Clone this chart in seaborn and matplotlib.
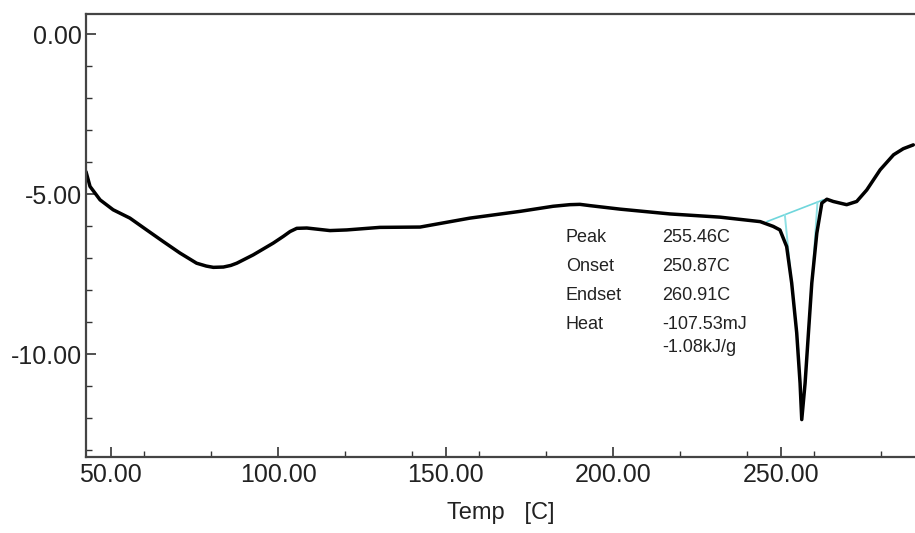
import numpy as np
import pandas as pd
import matplotlib
matplotlib.use("Agg")
import matplotlib.pyplot as plt
from matplotlib.ticker import MultipleLocator
import seaborn as sns

# DSC curve
temp = [42.6, 43.8, 46.8, 50.7, 55.7, 60.7, 65.6, 70.6, 75.6, 78.5, 80.6, 83.6,
        85.8, 87.6, 92.5, 98.5, 101.5, 103.5, 105.5, 108.5, 115.4, 120.4, 130.3,
        142.3, 157.2, 172.1, 182.0, 187.0, 190.0, 193.0, 202.0, 216.9, 231.8,
        243.8, 247.7, 249.7, 251.7, 253.2, 254.7, 255.7, 256.2, 257.2, 258.2,
        259.2, 260.7, 262.2, 263.7, 265.6, 269.6, 272.6, 275.6, 279.6, 283.6,
        286.5, 289.5]
heat_flow = [-4.30, -4.76, -5.18, -5.49, -5.75, -6.12, -6.48, -6.84, -7.16, -7.25, -7.29, -7.28,
             -7.23, -7.16, -6.90, -6.53, -6.32, -6.17, -6.07, -6.06, -6.14, -6.12, -6.04,
             -6.03, -5.75, -5.54, -5.38, -5.33, -5.32, -5.36, -5.47, -5.62, -5.72,
             -5.86, -6.01, -6.12, -6.64, -7.78, -9.34, -10.91, -12.05, -10.91, -9.34,
             -7.78, -6.22, -5.28, -5.16, -5.23, -5.33, -5.23, -4.87, -4.24, -3.77,
             -3.58, -3.46]

# peak analysis helper lines (cyan)
base_x = [245.8, 262.6]
base_y = [-5.86, -5.18]
left_tan_x = [251.15, 255.2]
left_tan_y = [-5.65, -9.9]
right_tan_x = [260.9, 257.85]
right_tan_y = [-5.24, -9.9]

labels = ["Peak", "Onset", "Endset", "Heat", ""]
values = ["255.46C", "250.87C", "260.91C", "-107.53mJ", "-1.08kJ/g"]

df = pd.DataFrame({"Temp": temp, "Heat": heat_flow})

sns.set_style("ticks")
plt.rcParams["font.family"] = ["Liberation Sans", "DejaVu Sans"]

fig = plt.figure(figsize=(9.15, 5.33), dpi=100)
ax = fig.add_axes([0.094, 0.1426, 0.906, 0.831])

ax.plot(base_x, base_y, color="#6fd6dc", lw=1.2, zorder=1)
ax.plot(left_tan_x, left_tan_y, color="#8fe0e4", lw=1.4, zorder=1)
ax.plot(right_tan_x, right_tan_y, color="#8fe0e4", lw=1.4, zorder=1)
sns.lineplot(data=df, x="Temp", y="Heat", color="black", lw=2.5, ax=ax,
             sort=False, zorder=2)

ax.set_xlim(42.6, 290)
ax.set_ylim(-13.22, 0.63)

ax.set_xticks([50, 100, 150, 200, 250])
ax.set_xticklabels(["50.00", "100.00", "150.00", "200.00", "250.00"])
ax.xaxis.set_minor_locator(MultipleLocator(20))
ax.set_yticks([0, -5, -10])
ax.set_yticklabels(["0.00", "-5.00", "-10.00"])
ax.yaxis.set_minor_locator(MultipleLocator(1))

ax.tick_params(axis="both", which="major", direction="in", length=7, width=1.2,
               color="#333333", labelsize=18, labelcolor="#222222", pad=3)
ax.tick_params(axis="both", which="minor", direction="in", length=4, width=1.0,
               color="#333333")
ax.tick_params(axis="x", which="major", pad=4)

ax.set_xlabel("Temp   [C]", fontsize=17, color="#222222", labelpad=11)
ax.set_ylabel("")

for side in ["left", "bottom", "top"]:
    ax.spines[side].set_color("#444444")
    ax.spines[side].set_linewidth(1.6)
ax.spines["right"].set_visible(False)

ys = [-6.37, -7.27, -8.18, -9.08, -9.80]
for lab, val, y in zip(labels, values, ys):
    ax.text(185.8, y, lab, fontsize=13, color="#222222", va="center", ha="left")
    ax.text(214.5, y, val, fontsize=13, color="#222222", va="center", ha="left")

fig.savefig("out.png", dpi=100, facecolor="white")
